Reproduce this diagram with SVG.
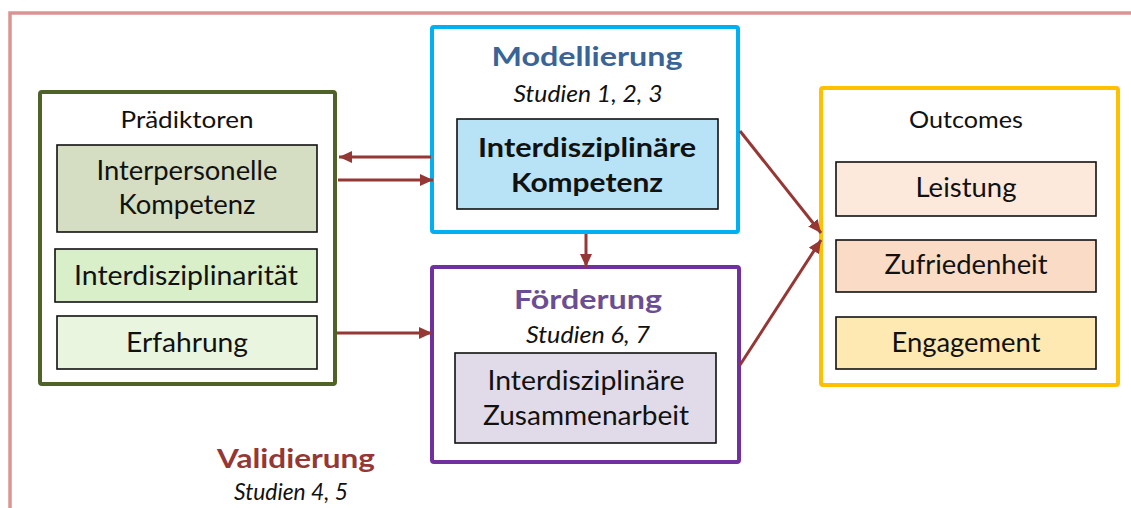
<svg xmlns="http://www.w3.org/2000/svg" width="1131" height="508" viewBox="0 0 1131 508">
  <style>
    text { font-family: Lato, "Open Sans", "Liberation Sans", sans-serif; text-anchor: middle; fill: #111; }
    .head { font-size: 23px; }
    .item { font-size: 26px; }
    .title { font-size: 27px; font-weight: bold; }
    .studien { font-size: 24px; font-style: italic; }
    .inner { stroke: #111; stroke-width: 1.6; }
    .group { fill: #fff; stroke-width: 4; }
    .conn { stroke: #953735; stroke-width: 3; fill: none; marker-end: url(#arrow); }
  </style>
  <defs>
    <marker id="arrow" markerUnits="userSpaceOnUse" markerWidth="14" markerHeight="12" refX="13" refY="6" orient="auto">
      <path d="M0,0 L13,6 L0,12 z" fill="#953735"/>
    </marker>
  </defs>

  <rect width="1131" height="508" fill="#fff"/>

  <!-- outer frame -->
  <rect x="10" y="13" width="1140" height="520" fill="none" stroke="#d99594" stroke-width="3.5"/>

  <!-- Validierung label -->
  <g id="validierung">
    <text class="title" x="296" y="468" style="fill:#953735" textLength="158" lengthAdjust="spacingAndGlyphs">Validierung</text>
    <text class="studien" x="291" y="500" textLength="114" lengthAdjust="spacingAndGlyphs">Studien 4, 5</text>
  </g>

  <!-- Prädiktoren -->
  <g id="praediktoren">
    <rect class="group" x="40" y="92" width="295" height="292" rx="2" stroke="#4f6228"/>
    <text class="head" x="187" y="128" textLength="133" lengthAdjust="spacingAndGlyphs">Prädiktoren</text>
    <g id="interpersonelle-kompetenz">
      <rect class="inner" x="57" y="145" width="260" height="87" fill="#d5ddc2"/>
      <text class="item" x="187" y="180" textLength="181" lengthAdjust="spacingAndGlyphs">Interpersonelle</text>
      <text class="item" x="187" y="214" textLength="137" lengthAdjust="spacingAndGlyphs">Kompetenz</text>
    </g>
    <g id="interdisziplinaritaet">
      <rect class="inner" x="55" y="249" width="262" height="53" fill="#d8efc9"/>
      <text class="item" x="186" y="285" textLength="224" lengthAdjust="spacingAndGlyphs">Interdisziplinarität</text>
    </g>
    <g id="erfahrung">
      <rect class="inner" x="57" y="316" width="260" height="53" fill="#eaf5df"/>
      <text class="item" x="187" y="352" textLength="122" lengthAdjust="spacingAndGlyphs">Erfahrung</text>
    </g>
  </g>

  <!-- Modellierung -->
  <g id="modellierung">
    <rect class="group" x="432" y="27" width="306" height="205" rx="2" stroke="#00b0f0"/>
    <text class="title" x="587" y="66" style="fill:#3a6496" textLength="191" lengthAdjust="spacingAndGlyphs">Modellierung</text>
    <text class="studien" x="588" y="102" textLength="149" lengthAdjust="spacingAndGlyphs">Studien 1, 2, 3</text>
    <g id="interdisziplinaere-kompetenz">
      <rect class="inner" x="457" y="119" width="261" height="90" fill="#b8e2f5"/>
      <text class="title" x="587" y="157" textLength="218" lengthAdjust="spacingAndGlyphs">Interdisziplinäre</text>
      <text class="title" x="587" y="192" textLength="152" lengthAdjust="spacingAndGlyphs">Kompetenz</text>
    </g>
  </g>

  <!-- Förderung -->
  <g id="foerderung">
    <rect class="group" x="432" y="267" width="307" height="195" rx="2" stroke="#7030a0"/>
    <text class="title" x="588" y="309" style="fill:#6b4d94" textLength="148" lengthAdjust="spacingAndGlyphs">Förderung</text>
    <text class="studien" x="588" y="343" textLength="124" lengthAdjust="spacingAndGlyphs">Studien 6, 7</text>
    <g id="interdisziplinaere-zusammenarbeit">
      <rect class="inner" x="455" y="353" width="261" height="90" fill="#e1dbe9"/>
      <text class="item" x="586" y="390" textLength="197" lengthAdjust="spacingAndGlyphs">Interdisziplinäre</text>
      <text class="item" x="586" y="425" textLength="206" lengthAdjust="spacingAndGlyphs">Zusammenarbeit</text>
    </g>
  </g>

  <!-- Outcomes -->
  <g id="outcomes">
    <rect class="group" x="821" y="88" width="297" height="297" rx="2" stroke="#ffc000"/>
    <text class="head" x="966" y="128" textLength="114" lengthAdjust="spacingAndGlyphs">Outcomes</text>
    <g id="leistung">
      <rect class="inner" x="836" y="162" width="260" height="54" fill="#fce9dc"/>
      <text class="item" x="966" y="197" textLength="101" lengthAdjust="spacingAndGlyphs">Leistung</text>
    </g>
    <g id="zufriedenheit">
      <rect class="inner" x="836" y="240" width="260" height="52" fill="#f9dbc6"/>
      <text class="item" x="966" y="274" textLength="163" lengthAdjust="spacingAndGlyphs">Zufriedenheit</text>
    </g>
    <g id="engagement">
      <rect class="inner" x="836" y="317" width="260" height="52" fill="#fde9b1"/>
      <text class="item" x="966" y="352" textLength="149" lengthAdjust="spacingAndGlyphs">Engagement</text>
    </g>
  </g>

  <!-- connectors -->
  <g id="connectors">
    <line class="conn" x1="431" y1="157" x2="339" y2="157"/>
    <line class="conn" x1="338" y1="180" x2="433" y2="180"/>
    <line class="conn" x1="337" y1="333" x2="432" y2="333"/>
    <line class="conn" x1="586" y1="234" x2="586" y2="267"/>
    <line class="conn" x1="740" y1="131" x2="821" y2="233"/>
    <line class="conn" x1="740" y1="365" x2="821" y2="240"/>
  </g>
</svg>
